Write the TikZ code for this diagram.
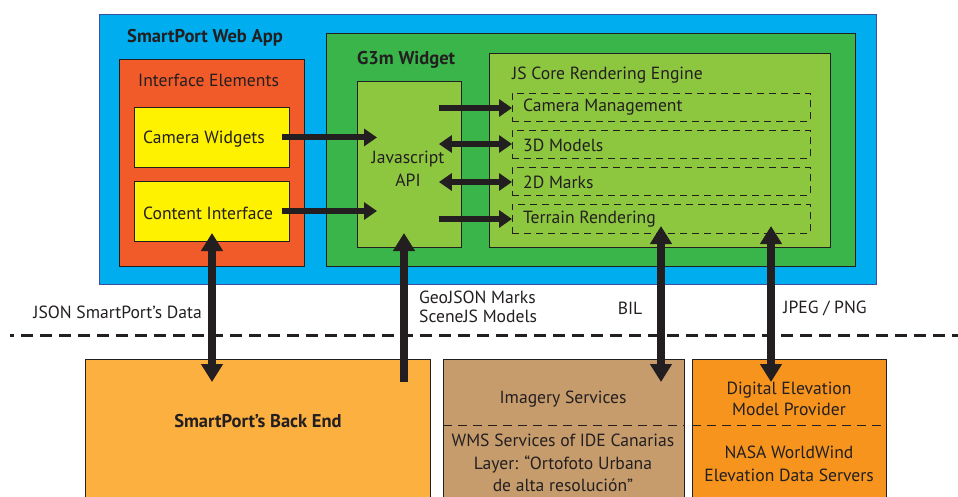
\documentclass[tikz,border=0pt]{standalone}
\usepackage{fontspec}
\setmainfont{PT Sans}
\usetikzlibrary{arrows.meta}
\definecolor{ink}{HTML}{231F20}
\definecolor{cyanbg}{HTML}{00AEEF}
\definecolor{bluebd}{HTML}{3A4FA0}
\definecolor{ifcorange}{HTML}{F15A29}
\definecolor{yel}{HTML}{FFF200}
\definecolor{dgreen}{HTML}{39B54A}
\definecolor{lgreen}{HTML}{8DC63F}
\definecolor{backend}{HTML}{FBB040}
\definecolor{tan}{HTML}{C69C6D}
\definecolor{demor}{HTML}{F7941D}
\tikzset{
  box/.style={draw=ink, line width=0.9pt},
  rowbox/.style={draw=ink, line width=0.9pt, dash pattern=on 7pt off 5pt},
  lbl/.style={inner sep=0pt, text=ink, font=\fontsize{17.6}{20}\selectfont},
  blbl/.style={lbl, font=\fontsize{18.5}{20}\selectfont\bfseries},
  harrow/.style={draw=ink, line width=6pt, -{Triangle[width=17pt,length=13pt]}},
  hdarrow/.style={draw=ink, line width=6pt, {Triangle[width=17pt,length=13pt]}-{Triangle[width=17pt,length=13pt]}},
  varrow/.style={draw=ink, line width=8pt, -{Triangle[width=21pt,length=18pt]}},
  vdarrow/.style={draw=ink, line width=8pt, {Triangle[width=21pt,length=18pt]}-{Triangle[width=21pt,length=18pt]}},
}
\begin{document}
\begin{tikzpicture}[x=1pt,y=-1pt]
\useasboundingbox (0,0) rectangle (958,496);
\clip (0,0) rectangle (958,496);
% top containers
\path[box, fill=cyanbg, draw=bluebd] (99,14) rectangle (876,284);
\node[blbl, anchor=west] (webapp) at (127,38) {SmartPort Web App};
\path[box, fill=ifcorange] (119,59) rectangle (304,266);
\node[lbl, anchor=west] (ifc) at (138,80) {Interface Elements};
\node[box, fill=yel, anchor=north west, minimum width=155pt, minimum height=60pt, inner sep=0pt] (camw) at (134,107) {};
\node[lbl, anchor=west] (camwt) at (143,139) {Camera Widgets};
\node[box, fill=yel, anchor=north west, minimum width=155pt, minimum height=60pt, inner sep=0pt] (conti) at (134,181) {};
\node[lbl, anchor=west] (contit) at (143,213) {Content Interface};
\path[box, fill=dgreen] (326,33) rectangle (855,266);
\node[blbl, anchor=west] (g3m) at (357,60) {G3m Widget};
\node[box, fill=lgreen, anchor=north west, minimum width=104pt, minimum height=166pt, inner sep=0pt] (api) at (357,81) {};
\node[lbl, align=center, font=\fontsize{17.6}{23}\selectfont] (apit) at (408,169) {Javascript\\API};
\node[box, fill=lgreen, anchor=north west, minimum width=341pt, minimum height=194pt, inner sep=0pt] (core) at (489,53) {};
\node[lbl, anchor=west] (coret) at (512,75) {JS Core Rendering Engine};
\node[rowbox, anchor=north west, minimum width=298pt, minimum height=28pt, inner sep=0pt] (r1) at (512,93) {};
\node[rowbox, anchor=north west, minimum width=298pt, minimum height=28pt, inner sep=0pt] (r2) at (512,130) {};
\node[rowbox, anchor=north west, minimum width=298pt, minimum height=28pt, inner sep=0pt] (r3) at (512,167) {};
\node[rowbox, anchor=north west, minimum width=298pt, minimum height=29pt, inner sep=0pt] (r4) at (512,204) {};
\node[lbl, anchor=west] (r1t) at (523,107) {Camera Management};
\node[lbl, anchor=west] (r2t) at (523,145) {3D Models};
\node[lbl, anchor=west] (r3t) at (523,182) {2D Marks};
\node[lbl, anchor=west] (r4t) at (523,219) {Terrain Rendering};
% bottom boxes
\node[box, fill=backend, anchor=north west, minimum width=345pt, minimum height=160pt, inner sep=0pt] (be) at (85,359) {};
\node[blbl] (bet) at (258,421) {SmartPort’s Back End};
\node[box, fill=tan, anchor=north west, minimum width=241pt, minimum height=160pt, inner sep=0pt] (img) at (443,359) {};
\node[box, fill=demor, anchor=north west, minimum width=194pt, minimum height=160pt, inner sep=0pt] (dem) at (692,359) {};
\draw[ink, line width=0.8pt, dash pattern=on 9pt off 6pt] (img.west |- 0,425) -- (img.east |- 0,425);
\draw[ink, line width=0.8pt, dash pattern=on 9pt off 6pt] (dem.west |- 0,425) -- (dem.east |- 0,425);
\node[lbl] (imgt) at (563,399) {Imagery Services};
\node[lbl, align=center, font=\fontsize{17.6}{22.5}\selectfont] (wms) at (563,463) {WMS Services of IDE Canarias\\Layer: “Ortofoto Urbana\\de alta resolución”};
\node[lbl, align=center, font=\fontsize{17.6}{21}\selectfont] (demt) at (789,399) {Digital Elevation\\Model Provider};
\node[lbl, align=center, font=\fontsize{17.6}{23}\selectfont] (nasa) at (789,464) {NASA WorldWind\\Elevation Data Servers};
% separator
\coordinate (sepL) at (10,335);
\coordinate (sepR) at (958,335);
\draw[ink, line width=3pt, dash pattern=on 12pt off 7pt, dash phase=8pt] (sepL) -- (sepR);
% labels
\node[lbl, anchor=east] (jsonl) at (202,312) {JSON SmartPort’s Data};
\node[lbl, align=left, anchor=west, font=\fontsize{17.6}{19}\selectfont] (geol) at (419,307) {GeoJSON Marks\\SceneJS Models};
\node[lbl] (bill) at (630,308) {BIL};
\node[lbl] (jpgl) at (825,308) {JPEG / PNG};
% arrow end points
\coordinate (jsonT) at (212,233);
\coordinate (jsonB) at (212,382);
\coordinate (geoT) at (404,233);
\coordinate (geoB) at (404,382);
\coordinate (bilT) at (661,226);
\coordinate (bilB) at (661,382);
\coordinate (jpgT) at (771,226);
\coordinate (jpgB) at (771,382);
% horizontal arrows
\draw[harrow] ([xshift=-8pt]camw.east) -- ([xshift=20pt]api.west |- camw.east);
\draw[harrow] ([xshift=-8pt]conti.east |- 0,211) -- ([xshift=20pt]api.west |- 0,211);
\draw[harrow] ([xshift=-23pt]api.east |- 0,108) -- (r1.west |- 0,108);
\draw[hdarrow] ([xshift=-23pt]api.east |- 0,144) -- (r2.west |- 0,144);
\draw[hdarrow] ([xshift=-23pt]api.east |- 0,182) -- (r3.west |- 0,182);
\draw[harrow] ([xshift=-23pt]api.east |- 0,219) -- (r4.west |- 0,219);
% vertical arrows
\draw[vdarrow] (jsonT) -- (jsonB);
\draw[varrow] (geoB) -- (geoT);
\draw[vdarrow] (bilT) -- (bilB);
\draw[vdarrow] (jpgT) -- (jpgB);
\end{tikzpicture}
\end{document}
